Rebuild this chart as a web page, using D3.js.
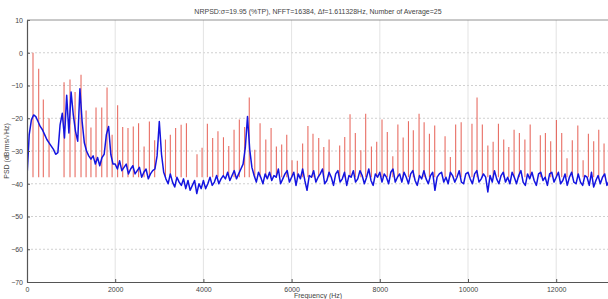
<!DOCTYPE html>
<html>
<head>
<meta charset="utf-8">
<title>NRPSD</title>
<script src="https://d3js.org/d3.v7.min.js"></script>
<style>
  body { margin: 0; background: #fff; }
  svg text { font-family: "Liberation Sans", Arial, sans-serif; fill: #444; }
</style>
</head>
<body>
<div id="chart"></div>
<script>
// Blue PSD trace, one value every 50 Hz starting at 0 Hz (dB)
var psdStep = 50;
var psdValues = [
  -38, -25, -20.5, -19, -19.5, -21, -22.5, -23.5, -25, -26.5,
  -27.5, -28.5, -29.5, -31, -30.5, -22, -18.5, -26, -13, -24.5,
  -12, -19, -24, -27, -11, -21, -27.5, -30, -31.5, -32.5,
  -31.5, -34, -32, -34.5, -32, -31, -25, -22.5, -31, -34,
  -34, -35.5, -33, -36, -35, -34, -37, -35.5, -34.5, -37,
  -36, -35, -38, -36.5, -35.5, -38.5, -37, -36, -35.5, -31.5,
  -21, -31, -36.5, -38.5, -40, -37, -39.5, -41, -38, -39.5,
  -40.5, -38.5, -41.5, -39, -42, -40.5, -39, -43, -40, -41.5,
  -39, -41.5, -40, -38, -40.5, -39.5, -37.5, -40, -38.5, -37.5,
  -38.5, -36.5, -39, -37.5, -36, -38.5, -37, -35.5, -34, -29,
  -19.5, -29.5, -35, -37.5, -39.5, -36.5, -38, -40, -37, -38.5,
  -36.5, -39, -37.5, -38, -35.5, -40, -38.5, -37, -36, -39.5,
  -38, -36.5, -40.5, -37, -38.5, -35.5, -39, -42, -37.5, -38,
  -36, -39.5, -38, -37, -35.5, -40, -39, -36.5, -38, -40.5,
  -37, -36, -39.5, -38.5, -36.5, -40.5, -37.5, -38, -36, -39.5,
  -38.5, -36, -37.5, -40, -38, -35.5, -39, -40.5, -37, -38,
  -36.5, -39.5, -37, -38, -40, -36.5, -35.5, -39.5, -38, -37,
  -39.5, -36.5, -38, -40, -37, -36, -39, -40.5, -37.5, -38.5,
  -36, -38.5, -40, -37.5, -36.5, -42, -38, -37, -36.5, -39.5,
  -38, -40, -36.5, -37.5, -39.5, -38, -36, -39.5, -40, -37,
  -36.5, -38.5, -40, -37, -36, -39.5, -38.5, -37, -38, -42.5,
  -37.5, -39.5, -36, -38.5, -40, -37.5, -36.5, -39.5, -38, -40,
  -36.5, -38, -40, -37.5, -36, -39.5, -40.5, -37, -38.5, -36.5,
  -39, -40.5, -37, -36.5, -39, -38, -40.5, -37, -36.5, -39.5,
  -38, -36.5, -40, -39, -37, -40.5, -38, -36.5, -39.5, -40,
  -37, -39.5, -40.5, -37.5, -38, -40.5, -36.5, -41, -39, -37.5,
  -40, -38, -37, -40.5, -39, -37.5, -40.5, -38.5, -37
];

// Red harmonic lines: frequency (Hz) and top value (dB)
var harmFreq = [
  136, 265, 370, 500, 840, 975, 1090, 1225, 1340, 1450, 1565, 1695, 1815, 1930,
  2055, 2170, 2290, 2410, 2530, 2655, 2775, 2895, 3140, 3250, 3370, 3495, 3615,
  3855, 3970, 4090, 4210, 4330, 4455, 4575, 4695, 4815, 4935, 5040, 5165, 5285,
  5415, 5535, 5655, 5775, 5890, 6010, 6130, 6250, 6370, 6485, 6615, 6730, 6850,
  7090, 7205, 7325, 7445, 7570, 7680, 7810, 7930, 8050, 8170, 8295, 8410, 8530,
  8650, 8760, 8890, 9005, 9125, 9245, 9480, 9600, 9720, 9845, 10090, 10205,
  10325, 10450, 10570, 10690, 10810, 10925, 11045, 11165, 11290, 11410, 11640,
  11755, 11875, 12005, 12125, 12245, 12365, 12490, 12610, 12730, 12850, 12965, 13085
];
var harmTop = [
  0, -4.9, -14.3, -20, -9, -8.2, -12, -6.7, -17.6, -22.8, -16.7, -16.7, -10.6, -25,
  -16, -22.7, -23, -22.5, -21.5, -28.6, -21, -26.7, -26.5, -25, -23, -22, -21.5,
  -31, -29, -21.7, -26, -24, -25.8, -28.5, -23.5, -20.4, -22.7, -13.7, -29.6, -21.5,
  -26.5, -23, -28.6, -28, -25, -32.8, -33, -27.7, -22.4, -24.7, -26, -28.8, -26.5,
  -28.3, -25.7, -18.8, -24.5, -29.8, -18.6, -28.6, -27.2, -20.4, -24.2, -31.6, -21.9, -25.9,
  -20.9, -23.7, -18.6, -21.2, -24.7, -22.2, -25.5, -31.8, -21.9, -21.2, -21.7, -13.7,
  -21.9, -28.3, -27.2, -21.7, -26.5, -28.8, -23.5, -24.5, -26.5, -21.9, -25.2,
  -24.5, -27, -20.5, -24.5, -32.2, -26.7, -22.2, -32.8, -24.7, -27, -23.5, -27.7
];
var harmBase = -38;

var yTicks = [10, 0, -10, -20, -30, -40, -50, -60, -70];
var xTicks = [0, 2000, 4000, 6000, 8000, 10000, 12000];

var titleText = "NRPSD:\u03c3=19.95 (%TP), NFFT=16384, \u0394f=1.611328Hz, Number of Average=25";
var xLabel = "Frequency (Hz)";
var yLabel = "PSD (dBrms/\u221aHz)";

const width = 608, height = 299;
const plot = {left: 27, top: 20, bottom: 282};

var svg = d3.select("#chart").append("svg")
  .attr("width", width)
  .attr("height", height);

var xScale = d3.scaleLinear().domain([0, 13400]).range([plot.left, plot.left + 13400 * 0.0441]);
var yScale = d3.scaleLinear().domain([-70, 10]).range([plot.bottom, plot.top]);

svg.append("clipPath").attr("id", "clip")
  .append("rect")
  .attr("x", plot.left).attr("y", plot.top)
  .attr("width", width - plot.left).attr("height", plot.bottom - plot.top);

// grid
svg.append("g").selectAll("line").data(yTicks.slice(1, -1)).join("line")
  .attr("x1", plot.left).attr("x2", width)
  .attr("y1", d => yScale(d)).attr("y2", d => yScale(d))
  .attr("stroke", "#c4c4c4").attr("stroke-width", 0.8)
  .attr("stroke-dasharray", "2,2");
svg.append("g").selectAll("line").data(xTicks.slice(1)).join("line")
  .attr("x1", d => xScale(d)).attr("x2", d => xScale(d))
  .attr("y1", plot.top).attr("y2", plot.bottom)
  .attr("stroke", "#dcdcdc").attr("stroke-width", 0.8);

var body = svg.append("g").attr("clip-path", "url(#clip)");

// red harmonic lines
body.append("g").selectAll("line").data(harmFreq).join("line")
  .attr("x1", d => xScale(d)).attr("x2", d => xScale(d))
  .attr("y1", yScale(harmBase))
  .attr("y2", (d, i) => yScale(harmTop[i]))
  .attr("stroke", "#e2483c").attr("stroke-opacity", 0.8)
  .attr("stroke-width", 1.1);

// blue PSD trace
var line = d3.line()
  .x((d, i) => xScale(i * psdStep))
  .y(d => yScale(d));
body.append("path")
  .datum(psdValues)
  .attr("d", line)
  .attr("fill", "none")
  .attr("stroke", "#1414e0")
  .attr("stroke-width", 1.5)
  .attr("stroke-linejoin", "round");

// axes
var xAxis = d3.axisBottom(xScale).tickValues(xTicks).tickFormat(d3.format("d"))
  .tickSizeInner(-3).tickSizeOuter(0).tickPadding(5);
var yAxis = d3.axisLeft(yScale).tickValues(yTicks).tickFormat(d3.format("d"))
  .tickSizeInner(-3).tickSizeOuter(0).tickPadding(4);

var gx = svg.append("g").attr("transform", "translate(0," + plot.bottom + ")").call(xAxis);
var gy = svg.append("g").attr("transform", "translate(" + plot.left + ",0)").call(yAxis);
[gx, gy].forEach(function(g) {
  g.select(".domain").attr("stroke", "#555").attr("stroke-width", 1.2);
  g.selectAll(".tick line").attr("stroke", "#555");
  g.selectAll("text").attr("font-size", 7).attr("fill", "#444")
    .style("font-family", "'Liberation Sans', Arial, sans-serif");
});

// top box edge
svg.append("line")
  .attr("x1", plot.left).attr("x2", width)
  .attr("y1", plot.top).attr("y2", plot.top)
  .attr("stroke", "#777").attr("stroke-width", 0.8);

// labels
svg.append("text").attr("x", 318).attr("y", 14)
  .attr("text-anchor", "middle").attr("font-size", 7).text(titleText);
svg.append("text").attr("x", 318).attr("y", 298)
  .attr("text-anchor", "middle").attr("font-size", 7).text(xLabel);
svg.append("text")
  .attr("transform", "translate(9,151) rotate(-90)")
  .attr("text-anchor", "middle").attr("font-size", 7).text(yLabel);
</script>
</body>
</html>
